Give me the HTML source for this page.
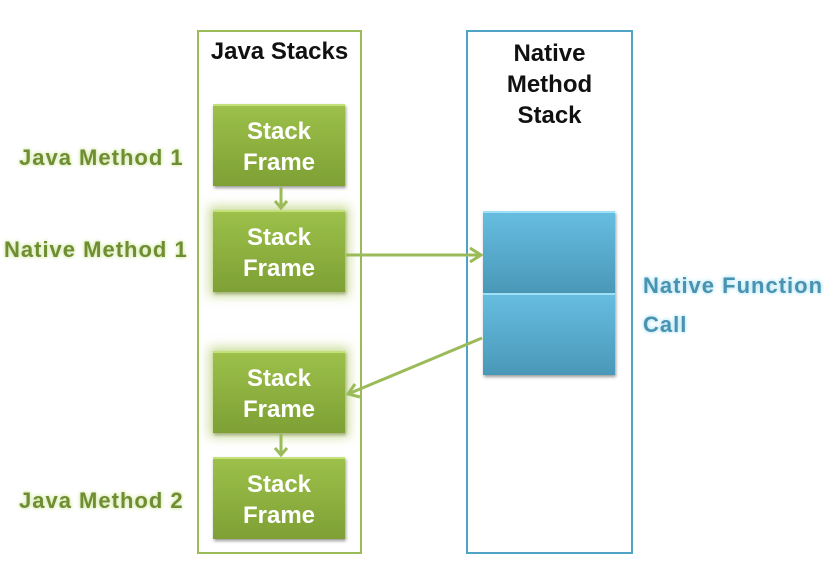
<!DOCTYPE html>
<html><head><style>
body{margin:0;width:830px;height:566px;background:#fff;position:relative;overflow:hidden;font-family:"Liberation Sans","DejaVu Sans",sans-serif;font-weight:bold}
.col{position:absolute;border:2px solid #9bbb59;box-sizing:border-box}
.f{position:absolute;left:213px;width:132px;height:82px;background:linear-gradient(#9cc04a,#7ea035);box-shadow:1px 2px 3px rgba(0,0,0,.4);color:#fff;font-size:24px;text-align:center;line-height:31px;box-sizing:border-box;padding-top:10px;border-top:2px solid #c4e07a}
.g{box-shadow:0 0 10px 4px rgba(170,200,90,.6),1px 2px 3px rgba(0,0,0,.4)}
.b{position:absolute;left:483px;width:132px;height:82px;background:linear-gradient(#66bde0,#4a98b8);box-shadow:1px 2px 3px rgba(0,0,0,.4);border-top:2px solid #9ee0f5;box-sizing:border-box}
.l{position:absolute;font-size:22px;letter-spacing:1px;color:#6f8d33;text-shadow:0 0 3px #d8eab0,0 0 5px #d8eab0;white-space:nowrap}
.t{position:absolute;font-size:24px;color:#111;text-align:center;line-height:31px}
</style></head><body>
<div class="col" style="left:197px;top:30px;width:165px;height:524px"></div>
<div class="col" style="left:466px;top:30px;width:167px;height:524px;border-color:#4fa3c4"></div>
<div class="t" style="left:197px;top:36px;width:165px">Java Stacks</div>
<div class="t" style="left:466px;top:38px;width:167px">Native<br>Method<br>Stack</div>
<div class="f" style="top:104px">Stack<br>Frame</div>
<div class="f g" style="top:210px">Stack<br>Frame</div>
<div class="f g" style="top:351px">Stack<br>Frame</div>
<div class="f" style="top:457px">Stack<br>Frame</div>
<div class="b" style="top:211px"></div>
<div class="b" style="top:293px"></div>
<svg style="position:absolute;left:0;top:0" width="830" height="566">
<g stroke="#9bbb59" stroke-width="3" fill="none">
<line x1="281" y1="187" x2="281" y2="208"/><polyline points="275,201 281,208 287,201"/>
<line x1="281" y1="434" x2="281" y2="455"/><polyline points="275,448 281,455 287,448"/>
<line x1="346" y1="255" x2="481" y2="255"/><polyline points="470,248 481,255 470,262"/>
<line x1="482" y1="338" x2="348" y2="394"/><polyline points="355,384 348,394 360,397"/>
</g></svg>
<div class="l" style="left:19px;top:145px">Java Method 1</div>
<div class="l" style="left:4px;top:237px">Native Method 1</div>
<div class="l" style="left:19px;top:488px">Java Method 2</div>
<div class="l" style="left:643px;top:273px;color:#4a93b0;text-shadow:0 0 3px #b8e6f5,0 0 5px #b8e6f5">Native Function</div>
<div class="l" style="left:643px;top:312px;color:#4a93b0;text-shadow:0 0 3px #b8e6f5,0 0 5px #b8e6f5">Call</div>
</body></html>
